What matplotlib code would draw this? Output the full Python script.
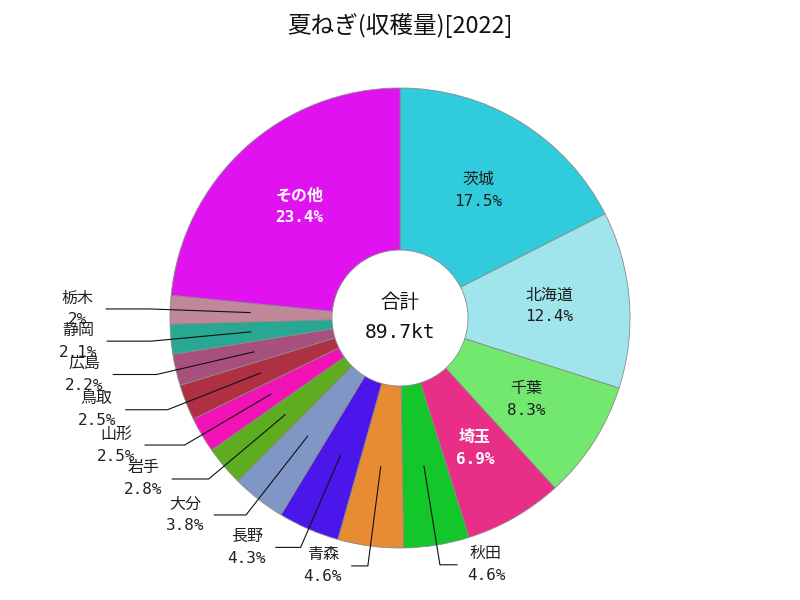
import numpy as np
import matplotlib
matplotlib.use("Agg")
import matplotlib.pyplot as plt

# ---- data ----
title = "夏ねぎ(収穫量)[2022]"
names = ["茨城", "北海道", "千葉", "埼玉", "秋田", "青森", "長野", "大分",
         "岩手", "山形", "鳥取", "広島", "静岡", "栃木", "その他"]
shares = [17.5, 12.4, 8.3, 6.9, 4.6, 4.6, 4.3, 3.8, 2.8, 2.5, 2.5, 2.2, 2.1, 2.0, 23.4]
colors = ["#30CBDC", "#A0E5EB", "#73E86F", "#E82E86", "#13C62A", "#E88C34",
          "#4B16E9", "#8096C4", "#5EAC1F", "#F113B5", "#AF3043", "#A8507D",
          "#28A892", "#C0889A", "#E013F0"]
white_text = ["埼玉", "その他"]
total_label = "合計"
total_value = "89.7kt"

# ---- layout ----
W, H = 800, 600
cx, cy = 400, H - 318
R_out, R_in = 230, 68
r_lab = 150
r_elbow = 250
inside_threshold = 5.0

mono_cjk = ["DejaVu Sans Mono", "Noto Sans CJK JP"]

fig = plt.figure(figsize=(8, 6), dpi=100)
ax = fig.add_axes([0, 0, 1, 1])
wedges, _ = ax.pie(shares, center=(cx, cy), radius=R_out, startangle=90,
                   counterclock=False, colors=colors,
                   wedgeprops=dict(width=R_out - R_in, edgecolor="#8a8a8a", linewidth=0.6))
ax.set_xlim(0, W)
ax.set_ylim(0, H)
ax.set_aspect("equal")
ax.axis("off")

for w, name, p in zip(wedges, names, shares):
    mid = np.deg2rad((w.theta1 + w.theta2) / 2)
    c, s = np.cos(mid), np.sin(mid)
    pct = f"{p:g}%"
    if p >= inside_threshold:
        is_white = name in white_text
        col = "white" if is_white else "#1e1e1e"
        fw = "bold" if is_white else "normal"
        x, y = cx + r_lab * c, cy + r_lab * s
        ax.text(x, y + 11, name, ha="center", va="center", fontsize=11.5,
                family=mono_cjk, color=col, fontweight=fw)
        ax.text(x, y - 11, pct, ha="center", va="center", fontsize=11.5,
                family=mono_cjk, color=col, fontweight=fw)
    else:
        x0, y0 = cx + r_lab * c, cy + r_lab * s
        x1, y1 = cx + r_elbow * c, cy + r_elbow * s
        sign = 1 if c >= 0 else -1
        L = 12 + 32 * abs(c)
        x2 = x1 + sign * L
        ax.plot([x0, x1, x2], [y0, y1, y1], color="#111111", lw=0.8)
        tx = x2 + sign * 29
        ax.text(tx, y1 + 11, name, ha="center", va="center", fontsize=11.5,
                family=mono_cjk, color="#222222")
        ax.text(tx, y1 - 11, pct, ha="center", va="center", fontsize=11.5,
                family=mono_cjk, color="#222222")

ax.text(cx, cy + 16, total_label, ha="center", va="center", fontsize=14,
        family=mono_cjk, color="#111111")
ax.text(cx, cy - 15, total_value, ha="center", va="center", fontsize=14,
        family=mono_cjk, color="#111111")

ax.text(W / 2, H - 25, title, ha="center", va="center", fontsize=17,
        family=["Noto Sans CJK JP", "DejaVu Sans"], color="#111111")

fig.savefig("out.png", dpi=100)
